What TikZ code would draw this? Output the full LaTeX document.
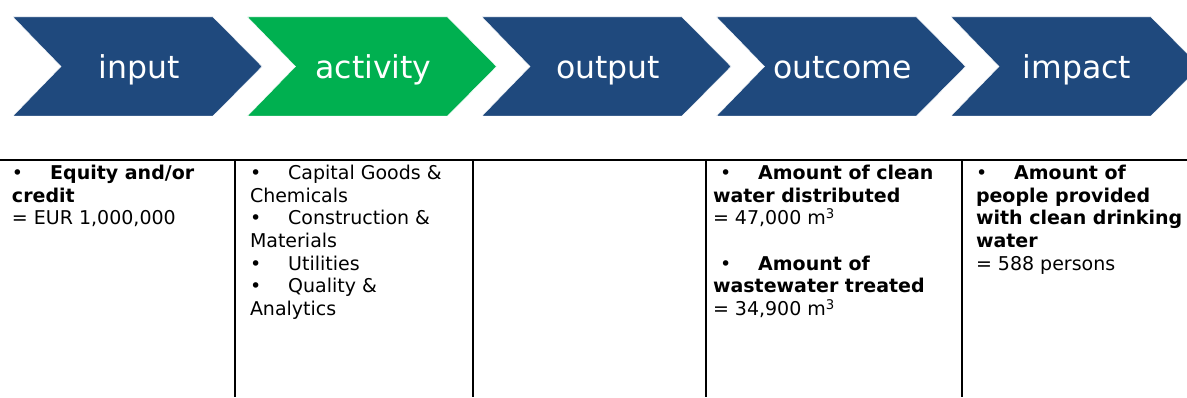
\documentclass[tikz,border=0pt]{standalone}
\usepackage{fontspec}
\setmainfont{DejaVu Sans}

\definecolor{c1f497d}{RGB}{31,73,125}
\definecolor{c00b050}{RGB}{0,176,80}

\tikzset{
  chevron/.style={fill=#1, draw=white, line width=0.4pt, line join=miter},
  steplabel/.style={text=white, anchor=base, font=\fontsize{31.5}{37}\selectfont},
  cell/.style={anchor=north west, align=left, font=\fontsize{19}{22.7}\selectfont},
  rule/.style={draw=black, line cap=butt, line width=1.5pt}
}
\newcommand\tabbullet{\textbullet\hspace{27pt}}

\begin{document}
\begin{tikzpicture}[y=1pt, x=1pt, inner sep=0pt, outer sep=0pt]
  \useasboundingbox (0, 0) rectangle (1187, 397);

  % five steps of the chain, one chevron each
  \foreach \name/\col [count=\i from 0] in {input/c1f497d, activity/c00b050, output/c1f497d, outcome/c1f497d, impact/c1f497d}{
    \pgfmathsetmacro{\lx}{13+234.5*\i}
    \path[chevron=\col] (\lx, 380) -- (\lx+200, 380) -- (\lx+249, 330.5)
      -- (\lx+200, 281) -- (\lx, 281) -- (\lx+48, 330.5) -- cycle;
    \node[steplabel] (\name) at (\lx+126, 318){\name};
  }

  % table rules
  \path[rule] (0, 237) -- (1187, 237);
  \path[rule] (235, 237) -- (235, 0);
  \path[rule] (473, 237) -- (473, 0);
  \path[rule] (706, 237) -- (706, 0);
  \path[rule] (962, 237) -- (962, 0);

  % cell contents
  \node[cell] (text_input) at (12, 232){\tabbullet\textbf{Equity and/or}\\
    \textbf{credit}\\
    = EUR 1,000,000};

  \node[cell] (text_activity) at (250, 232){\tabbullet Capital Goods \&\\
    Chemicals\\
    \tabbullet Construction \&\\
    Materials\\
    \tabbullet Utilities\\
    \tabbullet Quality \&\\
    Analytics};

  \node[cell] (text_outcome) at (713, 232){\hspace{7pt}\tabbullet\textbf{Amount of clean}\\
    \textbf{water distributed}\\
    = 47,000 m\textsuperscript{3}\\[22.7pt]
    \hspace{7pt}\tabbullet\textbf{Amount of}\\
    \textbf{wastewater treated}\\
    = 34,900 m\textsuperscript{3}};

  \node[cell] (text_impact) at (976, 232){\tabbullet\textbf{Amount of}\\
    \textbf{people provided}\\
    \textbf{with clean drinking}\\
    \textbf{water}\\
    = 588 persons};

\end{tikzpicture}
\end{document}
